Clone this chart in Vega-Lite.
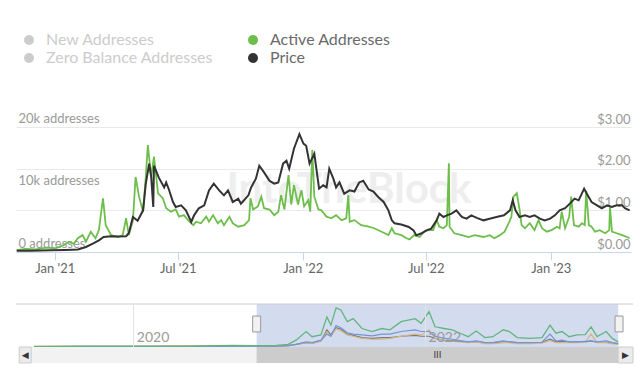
{
  "$schema": "https://vega.github.io/schema/vega-lite/v6.json",
  "padding": {"left": 15, "top": 32, "right": 5, "bottom": 5},
  "autosize": {"type": "pad"},
  "background": "white",
  "bounds": "flush",
  "spacing": 52,
  "config": {"view": {"stroke": null}, "font": "Lato", "axis": {"labelFont": "Lato"}, "legend": {"labelFont": "Lato"}},
  "datasets": {
    "active": [
      {"date":"2020-11-06","addresses":300},{"date":"2020-11-19","addresses":500},{"date":"2020-12-04","addresses":400},{"date":"2020-12-19","addresses":700},
      {"date":"2021-01-02","addresses":600},{"date":"2021-01-14","addresses":1100},{"date":"2021-01-22","addresses":1650},{"date":"2021-01-29","addresses":1300},
      {"date":"2021-02-04","addresses":2200},{"date":"2021-02-11","addresses":2700},{"date":"2021-02-16","addresses":1650},{"date":"2021-02-23","addresses":3250},
      {"date":"2021-03-02","addresses":2200},{"date":"2021-03-07","addresses":3500},{"date":"2021-03-13","addresses":8600},{"date":"2021-03-17","addresses":4300},
      {"date":"2021-03-25","addresses":2700},{"date":"2021-04-04","addresses":2400},{"date":"2021-04-11","addresses":2700},{"date":"2021-04-16","addresses":5400},
      {"date":"2021-04-20","addresses":2700},{"date":"2021-04-26","addresses":5000},{"date":"2021-04-30","addresses":12000},{"date":"2021-05-05","addresses":8900},
      {"date":"2021-05-11","addresses":6450},{"date":"2021-05-15","addresses":12000},{"date":"2021-05-18","addresses":17100},{"date":"2021-05-23","addresses":12000},
      {"date":"2021-05-27","addresses":15250},{"date":"2021-06-02","addresses":9400},{"date":"2021-06-09","addresses":8600},{"date":"2021-06-14","addresses":7000},
      {"date":"2021-06-21","addresses":6450},{"date":"2021-06-28","addresses":6800},{"date":"2021-07-03","addresses":5650},{"date":"2021-07-10","addresses":5900},
      {"date":"2021-07-18","addresses":4850},{"date":"2021-07-24","addresses":4300},{"date":"2021-07-28","addresses":4850},{"date":"2021-08-04","addresses":4600},
      {"date":"2021-08-12","addresses":5650},{"date":"2021-08-16","addresses":4850},{"date":"2021-08-22","addresses":5900},{"date":"2021-08-29","addresses":4600},
      {"date":"2021-09-03","addresses":5100},{"date":"2021-09-07","addresses":4300},{"date":"2021-09-15","addresses":5650},{"date":"2021-09-20","addresses":4600},
      {"date":"2021-09-28","addresses":4050},{"date":"2021-10-07","addresses":4300},{"date":"2021-10-14","addresses":5100},{"date":"2021-10-16","addresses":8600},
      {"date":"2021-10-20","addresses":6800},{"date":"2021-10-27","addresses":7300},{"date":"2021-11-01","addresses":8850},{"date":"2021-11-05","addresses":7000},
      {"date":"2021-11-13","addresses":6800},{"date":"2021-11-20","addresses":5900},{"date":"2021-11-26","addresses":6450},{"date":"2021-11-30","addresses":9100},
      {"date":"2021-12-05","addresses":6800},{"date":"2021-12-11","addresses":12300},{"date":"2021-12-15","addresses":7600},{"date":"2021-12-19","addresses":10700},
      {"date":"2021-12-25","addresses":7600},{"date":"2021-12-30","addresses":9900},{"date":"2022-01-03","addresses":7300},{"date":"2022-01-09","addresses":8300},
      {"date":"2022-01-12","addresses":6450},{"date":"2022-01-15","addresses":16300},{"date":"2022-01-18","addresses":8850},{"date":"2022-01-24","addresses":6800},
      {"date":"2022-01-28","addresses":6700},{"date":"2022-02-05","addresses":5650},{"date":"2022-02-12","addresses":5400},{"date":"2022-02-19","addresses":5900},
      {"date":"2022-02-27","addresses":5100},{"date":"2022-03-06","addresses":5400},{"date":"2022-03-09","addresses":9100},{"date":"2022-03-11","addresses":4850},
      {"date":"2022-03-18","addresses":5100},{"date":"2022-03-28","addresses":4300},{"date":"2022-04-08","addresses":4050},{"date":"2022-04-16","addresses":3800},
      {"date":"2022-04-27","addresses":3250},{"date":"2022-05-07","addresses":2700},{"date":"2022-05-12","addresses":3800},{"date":"2022-05-16","addresses":3000},
      {"date":"2022-05-26","addresses":2700},{"date":"2022-06-03","addresses":2200},{"date":"2022-06-07","addresses":2000},{"date":"2022-06-14","addresses":2700},
      {"date":"2022-06-22","addresses":2400},{"date":"2022-06-28","addresses":3250},{"date":"2022-07-05","addresses":3500},{"date":"2022-07-12","addresses":3500},
      {"date":"2022-07-17","addresses":5100},{"date":"2022-07-21","addresses":4050},{"date":"2022-07-27","addresses":3800},{"date":"2022-08-01","addresses":4300},
      {"date":"2022-08-04","addresses":14200},{"date":"2022-08-05","addresses":4050},{"date":"2022-08-12","addresses":3000},{"date":"2022-08-23","addresses":2700},
      {"date":"2022-09-02","addresses":2400},{"date":"2022-09-11","addresses":2700},{"date":"2022-09-24","addresses":2400},{"date":"2022-10-03","addresses":2700},
      {"date":"2022-10-10","addresses":2200},{"date":"2022-10-18","addresses":2700},{"date":"2022-10-25","addresses":3250},{"date":"2022-10-31","addresses":4600},
      {"date":"2022-11-04","addresses":5650},{"date":"2022-11-07","addresses":8850},{"date":"2022-11-12","addresses":9400},{"date":"2022-11-16","addresses":6800},
      {"date":"2022-11-19","addresses":4300},{"date":"2022-11-24","addresses":3800},{"date":"2022-12-01","addresses":4600},{"date":"2022-12-08","addresses":3500},
      {"date":"2022-12-14","addresses":5100},{"date":"2022-12-19","addresses":3800},{"date":"2022-12-26","addresses":3250},{"date":"2023-01-02","addresses":3500},
      {"date":"2023-01-10","addresses":4050},{"date":"2023-01-14","addresses":3800},{"date":"2023-01-17","addresses":6450},{"date":"2023-01-22","addresses":3800},
      {"date":"2023-01-28","addresses":5650},{"date":"2023-01-31","addresses":8850},{"date":"2023-02-04","addresses":4300},{"date":"2023-02-11","addresses":4050},
      {"date":"2023-02-16","addresses":4600},{"date":"2023-02-20","addresses":4300},{"date":"2023-02-22","addresses":9800},{"date":"2023-02-26","addresses":4300},
      {"date":"2023-03-02","addresses":4050},{"date":"2023-03-07","addresses":3250},{"date":"2023-03-14","addresses":3500},{"date":"2023-03-22","addresses":3000},
      {"date":"2023-03-28","addresses":3500},{"date":"2023-03-29","addresses":7300},{"date":"2023-04-01","addresses":3250},{"date":"2023-04-08","addresses":3000},
      {"date":"2023-04-16","addresses":2700},{"date":"2023-04-23","addresses":2400},{"date":"2023-04-27","addresses":2200}
    ],
    "price": [
      {"date":"2020-11-06","price":0.03},{"date":"2020-11-27","price":0.03},{"date":"2020-12-26","price":0.04},{"date":"2021-01-17","price":0.05},
      {"date":"2021-02-04","price":0.06},{"date":"2021-02-16","price":0.12},{"date":"2021-02-26","price":0.2},{"date":"2021-03-07","price":0.28},
      {"date":"2021-03-14","price":0.36},{"date":"2021-03-25","price":0.38},{"date":"2021-04-05","price":0.37},{"date":"2021-04-16","price":0.38},
      {"date":"2021-04-20","price":0.45},{"date":"2021-04-26","price":0.84},{"date":"2021-05-03","price":0.75},{"date":"2021-05-11","price":1.0},
      {"date":"2021-05-15","price":1.64},{"date":"2021-05-20","price":2.12},{"date":"2021-05-23","price":1.79},{"date":"2021-05-26","price":1.08},
      {"date":"2021-05-27","price":2.07},{"date":"2021-06-03","price":1.79},{"date":"2021-06-11","price":1.55},{"date":"2021-06-14","price":1.67},
      {"date":"2021-06-18","price":1.5},{"date":"2021-06-24","price":1.2},{"date":"2021-06-28","price":1.08},{"date":"2021-07-06","price":1.12},
      {"date":"2021-07-13","price":1.0},{"date":"2021-07-21","price":0.72},{"date":"2021-07-25","price":0.88},{"date":"2021-08-01","price":1.05},
      {"date":"2021-08-09","price":1.12},{"date":"2021-08-16","price":1.48},{"date":"2021-08-23","price":1.64},{"date":"2021-08-31","price":1.48},
      {"date":"2021-09-07","price":1.36},{"date":"2021-09-13","price":1.48},{"date":"2021-09-20","price":1.2},{"date":"2021-09-28","price":1.28},
      {"date":"2021-10-02","price":1.16},{"date":"2021-10-13","price":1.36},{"date":"2021-10-17","price":1.55},{"date":"2021-10-24","price":1.76},
      {"date":"2021-10-29","price":2.07},{"date":"2021-11-05","price":1.91},{"date":"2021-11-13","price":1.71},{"date":"2021-11-20","price":1.64},
      {"date":"2021-11-26","price":1.67},{"date":"2021-12-03","price":2.12},{"date":"2021-12-08","price":2.19},{"date":"2021-12-12","price":2.0},
      {"date":"2021-12-19","price":2.48},{"date":"2021-12-27","price":2.83},{"date":"2022-01-02","price":2.6},{"date":"2022-01-06","price":2.55},
      {"date":"2022-01-11","price":2.12},{"date":"2022-01-18","price":2.36},{"date":"2022-01-25","price":1.52},{"date":"2022-01-31","price":1.6},
      {"date":"2022-02-05","price":1.55},{"date":"2022-02-09","price":2.0},{"date":"2022-02-15","price":1.76},{"date":"2022-02-19","price":1.55},
      {"date":"2022-02-24","price":1.67},{"date":"2022-03-03","price":1.4},{"date":"2022-03-11","price":1.48},{"date":"2022-03-18","price":1.45},
      {"date":"2022-03-25","price":1.67},{"date":"2022-03-31","price":1.71},{"date":"2022-04-08","price":1.5},{"date":"2022-04-15","price":1.45},
      {"date":"2022-04-22","price":1.32},{"date":"2022-04-30","price":1.2},{"date":"2022-05-07","price":1.0},{"date":"2022-05-12","price":0.76},
      {"date":"2022-05-16","price":0.69},{"date":"2022-05-26","price":0.66},{"date":"2022-06-06","price":0.6},{"date":"2022-06-13","price":0.52},
      {"date":"2022-06-17","price":0.4},{"date":"2022-06-25","price":0.45},{"date":"2022-07-02","price":0.52},{"date":"2022-07-09","price":0.56},
      {"date":"2022-07-17","price":0.76},{"date":"2022-07-21","price":0.92},{"date":"2022-07-27","price":0.84},{"date":"2022-08-01","price":0.88},
      {"date":"2022-08-08","price":0.92},{"date":"2022-08-15","price":1.0},{"date":"2022-08-23","price":0.84},{"date":"2022-08-30","price":0.8},
      {"date":"2022-09-06","price":0.88},{"date":"2022-09-14","price":0.82},{"date":"2022-09-24","price":0.76},{"date":"2022-10-03","price":0.8},
      {"date":"2022-10-13","price":0.84},{"date":"2022-10-24","price":0.88},{"date":"2022-11-02","price":1.0},{"date":"2022-11-06","price":1.24},
      {"date":"2022-11-10","price":1.0},{"date":"2022-11-16","price":0.84},{"date":"2022-11-24","price":0.88},{"date":"2022-12-01","price":0.84},
      {"date":"2022-12-08","price":0.88},{"date":"2022-12-16","price":0.8},{"date":"2022-12-23","price":0.76},{"date":"2022-12-31","price":0.8},
      {"date":"2023-01-07","price":0.88},{"date":"2023-01-14","price":1.0},{"date":"2023-01-22","price":1.05},{"date":"2023-01-29","price":1.16},
      {"date":"2023-02-05","price":1.28},{"date":"2023-02-11","price":1.24},{"date":"2023-02-19","price":1.52},{"date":"2023-02-23","price":1.4},
      {"date":"2023-03-02","price":1.2},{"date":"2023-03-10","price":1.12},{"date":"2023-03-17","price":1.05},{"date":"2023-03-25","price":1.12},
      {"date":"2023-04-01","price":1.08},{"date":"2023-04-08","price":1.12},{"date":"2023-04-16","price":1.12},{"date":"2023-04-20","price":1.05},
      {"date":"2023-04-27","price":1.0}
    ],
    "nav": [
      {"date":"2019-04-27","active":0.01,"newAddr":0.01,"zeroBal":0.02,"price":0.0},
      {"date":"2019-08-23","active":0.02,"newAddr":0.01,"zeroBal":0.02,"price":0.01},
      {"date":"2020-01-08","active":0.02,"newAddr":0.01,"zeroBal":0.02,"price":0.01},
      {"date":"2020-05-25","active":0.02,"newAddr":0.01,"zeroBal":0.03,"price":0.01},
      {"date":"2020-09-02","active":0.04,"newAddr":0.02,"zeroBal":0.03,"price":0.02},
      {"date":"2020-11-01","active":0.03,"newAddr":0.02,"zeroBal":0.02,"price":0.02},
      {"date":"2020-12-24","active":0.04,"newAddr":0.02,"zeroBal":0.02,"price":0.02},
      {"date":"2021-01-23","active":0.06,"newAddr":0.03,"zeroBal":0.03,"price":0.03},
      {"date":"2021-02-12","active":0.16,"newAddr":0.06,"zeroBal":0.06,"price":0.06},
      {"date":"2021-03-09","active":0.36,"newAddr":0.12,"zeroBal":0.1,"price":0.1},
      {"date":"2021-03-24","active":0.24,"newAddr":0.1,"zeroBal":0.08,"price":0.09},
      {"date":"2021-04-15","active":0.28,"newAddr":0.16,"zeroBal":0.14,"price":0.14},
      {"date":"2021-04-30","active":0.7,"newAddr":0.3,"zeroBal":0.35,"price":0.4},
      {"date":"2021-05-10","active":0.51,"newAddr":0.25,"zeroBal":0.25,"price":0.28},
      {"date":"2021-05-23","active":0.91,"newAddr":0.5,"zeroBal":0.42,"price":0.45},
      {"date":"2021-06-04","active":0.86,"newAddr":0.45,"zeroBal":0.38,"price":0.42},
      {"date":"2021-06-20","active":0.59,"newAddr":0.33,"zeroBal":0.28,"price":0.3},
      {"date":"2021-07-05","active":0.66,"newAddr":0.3,"zeroBal":0.25,"price":0.27},
      {"date":"2021-07-27","active":0.43,"newAddr":0.28,"zeroBal":0.2,"price":0.22},
      {"date":"2021-08-21","active":0.36,"newAddr":0.26,"zeroBal":0.18,"price":0.2},
      {"date":"2021-09-15","active":0.43,"newAddr":0.3,"zeroBal":0.18,"price":0.22},
      {"date":"2021-10-05","active":0.4,"newAddr":0.3,"zeroBal":0.2,"price":0.22},
      {"date":"2021-11-02","active":0.59,"newAddr":0.36,"zeroBal":0.25,"price":0.25},
      {"date":"2021-12-07","active":0.66,"newAddr":0.4,"zeroBal":0.3,"price":0.27},
      {"date":"2021-12-22","active":0.55,"newAddr":0.36,"zeroBal":0.28,"price":0.25},
      {"date":"2022-01-11","active":0.82,"newAddr":0.36,"zeroBal":0.4,"price":0.25},
      {"date":"2022-01-26","active":0.47,"newAddr":0.25,"zeroBal":0.2,"price":0.2},
      {"date":"2022-02-18","active":0.43,"newAddr":0.2,"zeroBal":0.15,"price":0.15},
      {"date":"2022-03-10","active":0.4,"newAddr":0.18,"zeroBal":0.14,"price":0.15},
      {"date":"2022-03-30","active":0.32,"newAddr":0.15,"zeroBal":0.12,"price":0.13},
      {"date":"2022-04-19","active":0.24,"newAddr":0.12,"zeroBal":0.1,"price":0.12},
      {"date":"2022-05-09","active":0.37,"newAddr":0.14,"zeroBal":0.12,"price":0.12},
      {"date":"2022-05-31","active":0.22,"newAddr":0.1,"zeroBal":0.08,"price":0.1},
      {"date":"2022-06-20","active":0.24,"newAddr":0.1,"zeroBal":0.08,"price":0.1},
      {"date":"2022-07-16","active":0.4,"newAddr":0.14,"zeroBal":0.1,"price":0.12},
      {"date":"2022-07-31","active":0.36,"newAddr":0.12,"zeroBal":0.1,"price":0.12},
      {"date":"2022-08-20","active":0.22,"newAddr":0.1,"zeroBal":0.08,"price":0.1},
      {"date":"2022-09-21","active":0.2,"newAddr":0.1,"zeroBal":0.08,"price":0.1},
      {"date":"2022-10-21","active":0.22,"newAddr":0.11,"zeroBal":0.09,"price":0.11},
      {"date":"2022-11-10","active":0.51,"newAddr":0.3,"zeroBal":0.15,"price":0.18},
      {"date":"2022-11-25","active":0.32,"newAddr":0.14,"zeroBal":0.1,"price":0.12},
      {"date":"2022-12-10","active":0.36,"newAddr":0.16,"zeroBal":0.1,"price":0.13},
      {"date":"2022-12-28","active":0.24,"newAddr":0.12,"zeroBal":0.1,"price":0.12},
      {"date":"2023-01-17","active":0.28,"newAddr":0.12,"zeroBal":0.1,"price":0.12},
      {"date":"2023-02-06","active":0.29,"newAddr":0.13,"zeroBal":0.11,"price":0.12},
      {"date":"2023-02-21","active":0.47,"newAddr":0.14,"zeroBal":0.3,"price":0.14},
      {"date":"2023-03-08","active":0.24,"newAddr":0.12,"zeroBal":0.1,"price":0.11},
      {"date":"2023-03-31","active":0.36,"newAddr":0.14,"zeroBal":0.1,"price":0.11},
      {"date":"2023-04-15","active":0.2,"newAddr":0.1,"zeroBal":0.08,"price":0.09},
      {"date":"2023-04-30","active":0.12,"newAddr":0.08,"zeroBal":0.06,"price":0.08}
    ],
    "sel": [{"start":"2020-11-05","end":"2023-04-30"}],
    "handles": [{"start":"2020-10-26","end":"2020-11-15"},{"start":"2023-04-22","end":"2023-05-12"}],
    "scroll": [
      {"part":"track","start":"2019-04-20","end":"2023-04-30"},
      {"part":"thumb","start":"2020-11-05","end":"2023-04-30","mid":"2022-02-01","label":"III"},
      {"part":"button","start":"2019-03-21","end":"2019-04-20","mid":"2019-04-05","label":"◀"},
      {"part":"button","start":"2023-04-30","end":"2023-06-06","mid":"2023-05-18","label":"▶"}
    ]
  },
  "vconcat": [
    {
      "width": 615,
      "height": 125,
      "layer": [
        {
          "layer": [
            {
              "data": {"values": [{}]},
              "mark": {"type": "text", "font": "Lato", "fontSize": 42, "fontWeight": "bold", "color": "#eeeeee"},
              "encoding": {
                "x": {"datum": {"year": 2022, "month": 3, "date": 10, "utc": true}, "type": "temporal"},
                "y": {"datum": 9900, "type": "quantitative"},
                "text": {"value": "IntoTheBlock"}
              }
            },
            {
              "data": {"name": "active"},
              "mark": {"type": "line", "strokeWidth": 1.8, "clip": true},
              "encoding": {
                "x": {"field": "date", "type": "temporal", "title": null,
                  "scale": {"type": "utc", "domain": [{"year": 2020, "month": 11, "date": 5, "utc": true}, {"year": 2023, "month": 4, "date": 29, "utc": true}]},
                  "axis": {"values": [{"year": 2021, "month": 1, "date": 1, "utc": true}, {"year": 2021, "month": 7, "date": 1, "utc": true}, {"year": 2022, "month": 1, "date": 1, "utc": true}, {"year": 2022, "month": 7, "date": 1, "utc": true}, {"year": 2023, "month": 1, "date": 1, "utc": true}],
                    "format": "%b '%y", "grid": false, "domainColor": "#ccd6eb", "tickColor": "#ccd6eb", "tickSize": 8, "labelPadding": 2, "labelFontSize": 13, "labelColor": "#666666"}},
                "y": {"field": "addresses", "type": "quantitative", "title": null,
                  "scale": {"domain": [0, 20000], "nice": false},
                  "axis": {"orient": "left", "values": [0, 10000, 20000], "labelExpr": "datum.value == 0 ? '0 addresses' : (datum.value / 1000) + 'k addresses'",
                    "grid": false, "domain": false, "ticks": false, "tickSize": 0, "labelAlign": "left", "labelBaseline": "bottom", "labelPadding": -2, "labelOffset": -2,
                    "labelColor": "#9a9a9a", "labelFontSize": 13}},
                "color": {"datum": "Active Addresses", "type": "nominal",
                  "scale": {"domain": ["New Addresses", "Zero Balance Addresses", "Active Addresses", "Price"], "range": ["#cccccc", "#cccccc", "#6dbe4b", "#333333"]},
                  "legend": {"orient": "none", "legendX": 5, "legendY": -95, "columns": 2, "title": null, "symbolType": "circle", "symbolSize": 100, "symbolStrokeWidth": 0,
                    "labelFontSize": 16, "labelOffset": 9, "labelLimit": 400, "rowPadding": 2, "columnPadding": 32, "padding": 0,
                    "encode": {
                      "symbols": {"update": {"fill": {"scale": "color", "field": "value"}, "stroke": {"value": "transparent"}, "opacity": {"value": 1}}},
                      "labels": {"update": {"fill": {"signal": "datum.label == 'Active Addresses' || datum.label == 'Price' ? '#6a6a6a' : '#cccccc'"}}}
                    }}}
              }
            }
          ]
        },
        {
          "data": {"name": "price"},
          "mark": {"type": "line", "strokeWidth": 2, "clip": true},
          "encoding": {
            "x": {"field": "date", "type": "temporal", "title": null},
            "y": {"field": "price", "type": "quantitative", "title": null,
              "scale": {"domain": [0, 3], "nice": false},
              "axis": {"orient": "right", "values": [0, 1, 2, 3], "format": "$.2f", "grid": true, "gridColor": "#e9e9e9",
                "domain": false, "ticks": false, "tickSize": 0, "labelAlign": "right", "labelBaseline": "bottom", "labelPadding": -1, "labelOffset": -1,
                "labelColor": "#9a9a9a", "labelFontSize": 13}},
            "color": {"datum": "Price", "type": "nominal"}
          }
        }
      ],
      "resolve": {"scale": {"y": "independent"}}
    },
    {
      "spacing": 0,
      "bounds": "flush",
      "vconcat": [
        {
          "width": 617,
          "height": 43,
          "layer": [
            {
              "data": {"name": "sel"},
              "mark": {"type": "rect", "color": "#d3dbef"},
              "encoding": {
                "x": {"field": "start", "type": "temporal", "title": null,
                  "scale": {"type": "utc", "domain": [{"year": 2019, "month": 3, "date": 13, "utc": true}, {"year": 2023, "month": 6, "date": 6, "utc": true}]},
                  "axis": {"orient": "bottom", "zindex": 1, "values": [{"year": 2020, "month": 1, "date": 1, "utc": true}, {"year": 2022, "month": 1, "date": 1, "utc": true}],
                    "format": "%Y", "grid": true, "gridColor": "#dfe3ea", "domain": false, "ticks": false, "tickSize": 0,
                    "labelAlign": "left", "labelBaseline": "bottom", "labelPadding": -3, "labelOffset": 3, "labelFontSize": 14, "labelColor": "#9a9a9a"}},
                "x2": {"field": "end"}
              }
            },
            {
              "data": {"name": "nav"},
              "mark": {"type": "line", "color": "#7a7a7a", "strokeWidth": 1.2},
              "encoding": {
                "x": {"field": "date", "type": "temporal", "title": null},
                "y": {"field": "price", "type": "quantitative", "title": null, "scale": {"domain": [0, 1], "nice": false}, "axis": null}
              }
            },
            {
              "data": {"name": "nav"},
              "mark": {"type": "line", "color": "#d8b47e", "strokeWidth": 1.2},
              "encoding": {
                "x": {"field": "date", "type": "temporal", "title": null},
                "y": {"field": "zeroBal", "type": "quantitative", "title": null}
              }
            },
            {
              "data": {"name": "nav"},
              "mark": {"type": "line", "color": "#6f96d8", "strokeWidth": 1.2},
              "encoding": {
                "x": {"field": "date", "type": "temporal", "title": null},
                "y": {"field": "newAddr", "type": "quantitative", "title": null}
              }
            },
            {
              "data": {"name": "nav"},
              "mark": {"type": "line", "color": "#63b57e", "strokeWidth": 1.3},
              "encoding": {
                "x": {"field": "date", "type": "temporal", "title": null},
                "y": {"field": "active", "type": "quantitative", "title": null}
              }
            },
            {
              "data": {"values": [{}]},
              "mark": {"type": "rule", "color": "#cccccc", "strokeWidth": 1},
              "encoding": {"y": {"datum": 1, "type": "quantitative"}}
            },
            {
              "data": {"name": "handles"},
              "mark": {"type": "rect", "fill": "#f2f2f2", "stroke": "#999999", "strokeWidth": 1},
              "encoding": {
                "x": {"field": "start", "type": "temporal", "title": null},
                "x2": {"field": "end"},
                "y": {"datum": 0.35, "type": "quantitative"},
                "y2": {"datum": 0.72}
              }
            }
          ]
        },
        {
          "width": 617,
          "height": 16,
          "data": {"name": "scroll"},
          "layer": [
            {
              "transform": [{"filter": "datum.part == 'track'"}],
              "mark": {"type": "rect", "fill": "#f2f2f2"},
              "encoding": {
                "x": {"field": "start", "type": "temporal", "title": null,
                  "scale": {"type": "utc", "domain": [{"year": 2019, "month": 3, "date": 13, "utc": true}, {"year": 2023, "month": 6, "date": 6, "utc": true}]},
                  "axis": null},
                "x2": {"field": "end"}
              }
            },
            {
              "transform": [{"filter": "datum.part == 'thumb'"}],
              "mark": {"type": "rect", "fill": "#cccccc"},
              "encoding": {
                "x": {"field": "start", "type": "temporal", "title": null},
                "x2": {"field": "end"}
              }
            },
            {
              "transform": [{"filter": "datum.part == 'button'"}],
              "mark": {"type": "rect", "fill": "#ebebeb", "stroke": "#cccccc", "strokeWidth": 1},
              "encoding": {
                "x": {"field": "start", "type": "temporal", "title": null},
                "x2": {"field": "end"}
              }
            },
            {
              "transform": [{"filter": "datum.label != null"}],
              "mark": {"type": "text", "color": "#333333", "fontSize": 9, "font": "DejaVu Sans"},
              "encoding": {
                "x": {"field": "mid", "type": "temporal", "title": null},
                "text": {"field": "label"}
              }
            }
          ]
        }
      ]
    }
  ]
}
